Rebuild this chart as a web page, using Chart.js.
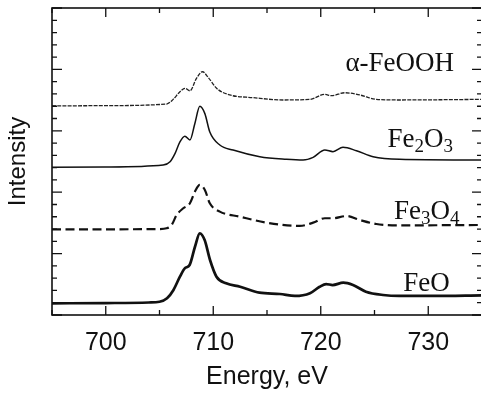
<!DOCTYPE html>
<html>
<head>
<meta charset="utf-8">
<script src="https://cdn.jsdelivr.net/npm/chart.js@4.4.0/dist/chart.umd.min.js"></script>
<style>
  html, body { margin: 0; padding: 0; background: #fff; overflow: hidden; width: 481px; height: 394px; }
  canvas { display: block; }
</style>
</head>
<body>
<canvas id="myChart" width="484" height="394" style="width:484px;height:394px"></canvas>
<script>
'use strict';

// energy (eV) and offset intensity for each spectrum
const energyFeO = [695, 700, 704, 705, 705.7, 706.3, 706.9, 707.35, 707.8, 708.3, 708.75, 709.2, 709.7, 710.3, 711.2, 712.5, 714.3, 716.2, 717.6, 719.0, 719.9, 720.5, 721.1, 722.1, 723.0, 724.2, 725.8, 727.3, 730.4, 735];
const intensityFeO = [0.95, 0.97, 1.02, 1.08, 1.36, 2.04, 3.12, 3.8, 4.07, 5.56, 6.65, 6.1, 4.48, 3.12, 2.58, 2.3, 1.82, 1.71, 1.55, 1.77, 2.3, 2.52, 2.44, 2.63, 2.44, 1.9, 1.63, 1.55, 1.55, 1.6];

const energyFe3O4 = [695, 700, 705, 705.66, 706.13, 706.59, 707.21, 707.83, 708.29, 708.75, 709.22, 709.68, 710.61, 712.47, 714.95, 718.05, 719.29, 720.38, 721.14, 722.39, 723.62, 725.17, 727.34, 735];
const intensityFe3O4 = [6.98, 6.98, 7.0, 7.06, 7.33, 8.14, 8.69, 9.1, 10.04, 10.59, 10.18, 9.1, 8.42, 8.01, 7.52, 7.25, 7.52, 7.88, 7.88, 8.06, 7.74, 7.41, 7.3, 7.33];

const energyFe2O3 = [695, 700, 705.34, 705.98, 706.45, 706.9, 707.36, 707.83, 708.29, 708.75, 709.22, 709.68, 710.61, 711.85, 714.33, 716.81, 718.36, 719.29, 720.38, 721.14, 722.07, 723.32, 724.87, 727.34, 735];
const intensityFe2O3 = [12.03, 12.05, 12.21, 12.48, 13.16, 14.1, 14.56, 14.25, 15.6, 17.0, 16.4, 14.9, 13.84, 13.43, 12.89, 12.68, 12.62, 12.84, 13.44, 13.3, 13.66, 13.38, 12.89, 12.68, 12.62];

const energyFeOOH = [695, 700, 705.66, 706.27, 706.9, 707.36, 707.83, 708.44, 709.0, 709.52, 710.31, 711.54, 713.71, 716.5, 718.98, 720.38, 721.0, 722.23, 723.62, 725.17, 727.34, 735];
const intensityFeOOH = [17.02, 17.05, 17.18, 17.56, 18.18, 18.46, 18.26, 19.27, 19.81, 19.36, 18.46, 17.92, 17.7, 17.51, 17.56, 17.97, 17.86, 18.1, 17.92, 17.56, 17.51, 17.56];

// curve labels: text parts [text, isSubscript] and the data point where the label ends
const labelParts = [
  [['\u03b1-FeOOH', false]],
  [['Fe', false], ['2', true], ['O', false], ['3', true]],
  [['Fe', false], ['3', true], ['O', false], ['4', true]],
  [['FeO', false]]
];
const labelEndX = [732.4, 732.3, 732.9, 732.0];
const labelBaseY = [19.85, 13.65, 7.85, 1.99];

function toPoints(xs, ys) {
  const pts = [];
  for (let i = 0; i < xs.length; i++) {
    pts.push({x: xs[i], y: ys[i]});
  }
  return pts;
}

// frame with inward ticks on all four sides, plus the curve labels
const framePlugin = {
  id: 'frame',
  afterDatasetsDraw(chart) {
    const ctx = chart.ctx;
    const a = chart.chartArea;
    const xs = chart.scales.x;
    const ys = chart.scales.y;
    ctx.save();
    ctx.strokeStyle = '#111';
    ctx.lineWidth = 1.3;
    xs.ticks.forEach(function(t) {
      const px = xs.getPixelForValue(t.value);
      const len = (t.value % 10 === 0) ? 9 : 5;
      ctx.beginPath();
      ctx.moveTo(px, a.bottom);
      ctx.lineTo(px, a.bottom - len);
      ctx.moveTo(px, a.top);
      ctx.lineTo(px, a.top + len);
      ctx.stroke();
    });
    ys.ticks.forEach(function(t) {
      const py = ys.getPixelForValue(t.value);
      const len = (t.value % 5 === 0) ? 10 : 5;
      ctx.beginPath();
      ctx.moveTo(a.left, py);
      ctx.lineTo(a.left + len, py);
      ctx.moveTo(a.right, py);
      ctx.lineTo(a.right - len, py);
      ctx.stroke();
    });
    ctx.lineWidth = 1.6;
    ctx.strokeRect(a.left, a.top, a.right - a.left, a.bottom - a.top);

    ctx.fillStyle = '#111';
    ctx.textBaseline = 'alphabetic';
    ctx.textAlign = 'left';
    const big = '27px "Liberation Serif", "Times New Roman", serif';
    const small = '19px "Liberation Serif", "Times New Roman", serif';
    for (let i = 0; i < labelParts.length; i++) {
      let w = 0;
      labelParts[i].forEach(function(p) {
        ctx.font = p[1] ? small : big;
        w += ctx.measureText(p[0]).width;
      });
      let px = xs.getPixelForValue(labelEndX[i]) - w;
      const py = ys.getPixelForValue(labelBaseY[i]);
      labelParts[i].forEach(function(p) {
        ctx.font = p[1] ? small : big;
        ctx.fillText(p[0], px, p[1] ? py + 5 : py);
        px += ctx.measureText(p[0]).width;
      });
    }
    ctx.restore();
  }
};

const ctx = document.getElementById('myChart').getContext('2d');
const chart = new Chart(ctx, {
  type: 'line',
  data: {
    datasets: [
      {
        label: 'FeO',
        data: toPoints(energyFeO, intensityFeO),
        borderColor: '#111',
        borderWidth: 2.7
      },
      {
        label: 'Fe3O4',
        data: toPoints(energyFe3O4, intensityFe3O4),
        borderColor: '#111',
        borderWidth: 2.2,
        borderDash: [9, 4.5]
      },
      {
        label: 'Fe2O3',
        data: toPoints(energyFe2O3, intensityFe2O3),
        borderColor: '#111',
        borderWidth: 1.5
      },
      {
        label: 'a-FeOOH',
        data: toPoints(energyFeOOH, intensityFeOOH),
        borderColor: '#222',
        borderWidth: 1.3,
        borderDash: [4, 1.2]
      }
    ]
  },
  options: {
    responsive: false,
    animation: false,
    events: [],
    layout: {padding: {top: 8, right: 2, left: 0, bottom: 0}},
    elements: {
      point: {radius: 0},
      line: {cubicInterpolationMode: 'monotone', fill: false}
    },
    plugins: {
      legend: {display: false},
      tooltip: {enabled: false}
    },
    scales: {
      x: {
        type: 'linear',
        min: 695,
        max: 735,
        grid: {display: false, drawTicks: false},
        border: {display: false},
        ticks: {
          stepSize: 5,
          padding: 13,
          color: '#111',
          font: {family: '"Liberation Sans", Arial, sans-serif', size: 25},
          autoSkip: false,
          maxRotation: 0,
          callback: function(v) { return v % 10 === 0 ? String(v) : ''; }
        },
        title: {
          display: true,
          text: 'Energy, eV',
          color: '#111',
          font: {family: '"Liberation Sans", Arial, sans-serif', size: 25},
          padding: {top: 0, bottom: 2}
        },
        afterFit: function(s) {
          s.height = 79;
          s.paddingLeft = 0;
          s.paddingRight = 0;
        }
      },
      y: {
        min: 0,
        max: 25,
        grid: {display: false, drawTicks: false},
        border: {display: false},
        ticks: {display: false, stepSize: 1},
        title: {
          display: true,
          text: 'Intensity',
          color: '#111',
          font: {family: '"Liberation Sans", Arial, sans-serif', size: 24},
          padding: {top: 4, bottom: 0}
        },
        afterFit: function(s) {
          s.width = 52;
          s.paddingTop = 0;
          s.paddingBottom = 0;
        }
      }
    }
  },
  plugins: [framePlugin]
});
</script>
</body>
</html>
